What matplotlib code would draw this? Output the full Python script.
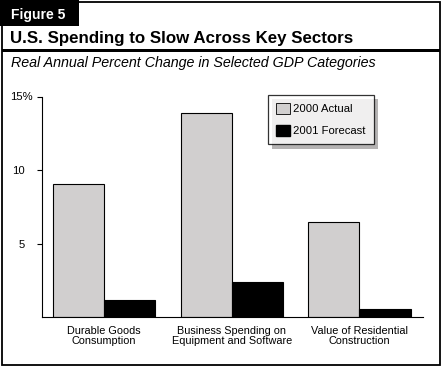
import matplotlib.pyplot as plt
from matplotlib.patches import Rectangle, Patch
import numpy as np

plt.rcParams['font.family'] = ['Liberation Sans', 'DejaVu Sans']

categories = ['Durable Goods\nConsumption',
              'Business Spending on\nEquipment and Software',
              'Value of Residential\nConstruction']
actual_2000 = [9.05, 13.9, 6.45]
forecast_2001 = [1.15, 2.4, 0.5]
series_names = ['2000 Actual', '2001 Forecast']
yticks = [5, 10, 15]
ytick_labels = ['5', '10', '']

W, H = 447, 373
fig = plt.figure(figsize=(W / 100, H / 100), dpi=100)


def fx(px):
    return px / W


def fy(py):
    return 1 - py / H


# outer frame and header
fig.patches.append(Rectangle((fx(1.5), fy(365)), fx(440) - fx(1.5), fy(1.5) - fy(365),
                             transform=fig.transFigure, fill=False, edgecolor='black', linewidth=1.3))
fig.patches.append(Rectangle((fx(0), fy(26)), fx(79), fy(0) - fy(26),
                             transform=fig.transFigure, facecolor='black', edgecolor='none'))
fig.patches.append(Rectangle((fx(1.5), fy(52)), fx(440) - fx(1.5), fy(49) - fy(52),
                             transform=fig.transFigure, facecolor='black', edgecolor='none'))
fig.text(fx(11), fy(14.5), 'Figure 5', color='white', fontsize=10, fontweight='bold', va='center')
fig.text(fx(10), fy(38.5), 'U.S. Spending to Slow Across Key Sectors', fontsize=12.2,
         fontweight='bold', va='center')
fig.text(fx(11), fy(63), 'Real Annual Percent Change in Selected GDP Categories', fontsize=10.3,
         fontstyle='italic', va='center')

ax = fig.add_axes([fx(41.7), fy(316.7), fx(423.3) - fx(41.7), fy(97.3) - fy(316.7)])
x = np.arange(len(categories))
w = 0.4
ax.bar(x - w / 2, actual_2000, w, color='#d1cfcf', edgecolor='black', linewidth=0.8)
ax.bar(x + w / 2, forecast_2001, w, color='black', edgecolor='black', linewidth=0.8)
ax.set_xlim(-0.49, 2.5)
ax.set_ylim(0, 15)
ax.set_yticks(yticks)
ax.set_yticklabels(ytick_labels, fontsize=8.1)
# top label carries the % sign, which hangs past the other labels
ax.annotate('15%', xy=(0, 15), xycoords=('axes fraction', 'data'), xytext=(-6.3, 0),
            textcoords='offset points', ha='right', va='center', fontsize=8.1)
ax.set_xticks(x)
ax.set_xticklabels(categories, fontsize=7.8, linespacing=1.0)
ax.tick_params(axis='x', length=0, pad=7)
ax.tick_params(axis='y', length=3.6, width=0.8, pad=8.4)
for s in ['top', 'right']:
    ax.spines[s].set_visible(False)
ax.spines['left'].set_linewidth(0.8)
ax.spines['bottom'].set_linewidth(0.8)

handles = [Patch(facecolor='#d1cfcf', edgecolor='black', linewidth=0.6),
           Patch(facecolor='black', edgecolor='black')]
leg = ax.legend(handles, series_names, loc='upper left',
                bbox_to_anchor=(fx(267.7), fy(95)), bbox_transform=fig.transFigure,
                fontsize=8.1, frameon=True, fancybox=False, handlelength=1.29,
                handleheight=1.15, handletextpad=0.3, labelspacing=0.95,
                borderpad=0.7, borderaxespad=0)
leg.get_frame().set_edgecolor('black')
leg.get_frame().set_linewidth(0.9)
leg.set_zorder(5)

fig.canvas.draw()
bb = leg.get_window_extent().transformed(fig.transFigure.inverted())
off = 4.5
fig.patches.append(Rectangle((bb.x0 + fx(off), bb.y0 - off / H), bb.width, bb.height,
                             transform=fig.transFigure, facecolor='#b5b3b3', edgecolor='none',
                             zorder=0))
ax.set_zorder(1)
ax.patch.set_alpha(0)

fig.savefig('out.png', dpi=100)
